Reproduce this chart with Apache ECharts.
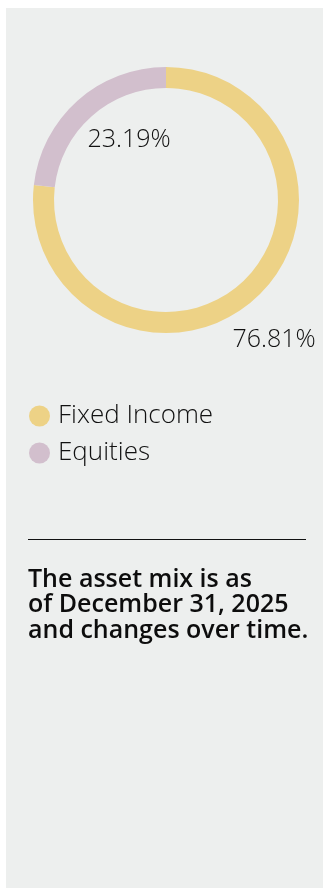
<!DOCTYPE html>
<html>
<head>
<meta charset="utf-8">
<script src="https://cdn.jsdelivr.net/npm/echarts@6/dist/echarts.min.js"></script>
<style>
  html, body { margin: 0; padding: 0; background: #ffffff; }
  #chart { position: absolute; left: 6px; top: 8px; width: 317px; height: 880px; background: #edefee; }
</style>
</head>
<body>
<div id="chart"></div>
<script>
// Asset mix
const categories = ['Fixed Income', 'Equities'];
const shares = [76.81, 23.19];
const colors = ['#edd286', '#d2bfcd'];
const note = ['The asset mix is as', 'of December 31, 2025', 'and changes over time.'];

// label anchor points inside the chart box (per slice)
const labelSpots = [
  { x: 268, y: 332 },
  { x: 123, y: 132 }
];

const chart = echarts.init(document.getElementById('chart'));
const font = '"Open Sans", "Noto Sans", sans-serif';

chart.setOption({
  animation: false,
  legend: {
    orient: 'vertical',
    left: 23,
    top: 395,
    padding: 0,
    icon: 'circle',
    itemWidth: 21,
    itemHeight: 21,
    itemGap: 11,
    selectedMode: false,
    data: categories,
    textStyle: { fontFamily: font, fontSize: 26, fontWeight: 300, color: '#111111', padding: [0, 0, 0, 3] }
  },
  graphic: [
    { type: 'line', shape: { x1: 22, y1: 531.5, x2: 300, y2: 531.5 }, style: { stroke: '#111111', lineWidth: 1 } },
    {
      type: 'text', left: 22, top: 559,
      style: { text: note.join('\n'), font: '600 25px ' + font, fill: '#0d0d0d', lineHeight: 25.5 }
    }
  ],
  series: [{
    type: 'pie',
    center: [160, 192],
    radius: [112, 133],
    startAngle: 90,
    clockwise: true,
    silent: true,
    itemStyle: { borderWidth: 0 },
    label: {
      show: true,
      position: 'inside',
      overflow: 'none',
      formatter: p => p.value.toFixed(2) + '%',
      fontFamily: font, fontSize: 25, fontWeight: 300, color: '#111111'
    },
    labelLine: { show: false },
    labelLayout: p => ({ x: labelSpots[p.dataIndex].x, y: labelSpots[p.dataIndex].y, align: 'center', verticalAlign: 'middle' }),
    data: categories.map((name, i) => ({ name, value: shares[i], itemStyle: { color: colors[i] } }))
  }]
});
</script>
</body>
</html>
